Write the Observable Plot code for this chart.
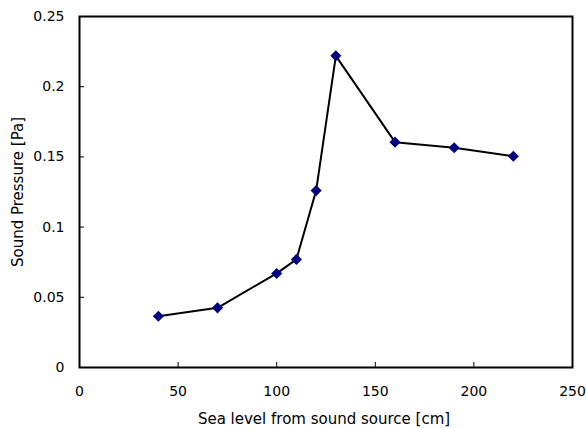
<!DOCTYPE html>
<html>
<head>
<meta charset="utf-8">
<script src="https://cdn.jsdelivr.net/npm/d3@7"></script>
<script src="https://cdn.jsdelivr.net/npm/@observablehq/plot@0.6"></script>
<style>
  html, body { margin: 0; padding: 0; background: #fff; }
  #chart svg { display: block; }
</style>
</head>
<body>
<div id="chart"></div>
<script>
const distance = [40, 70, 100, 110, 120, 130, 160, 190, 220];
const pressure = [0.0365, 0.0425, 0.067, 0.077, 0.126, 0.222, 0.1605, 0.1565, 0.1505];
const xTicks = [0, 50, 100, 150, 200, 250];
const yTicks = [0, 0.05, 0.1, 0.15, 0.2, 0.25];
const xLabel = "Sea level from sound source [cm]";
const yLabel = "Sound Pressure [Pa]";

const data = distance.map((d, i) => ({x: d, y: pressure[i]}));
const font = "'DejaVu Sans', sans-serif";

const chart = Plot.plot({
  width: 586,
  height: 428,
  marginLeft: 79,
  marginRight: 14,
  marginTop: 16,
  marginBottom: 61,
  style: {fontFamily: font, fontSize: "14px", color: "#000", background: "#fff"},
  x: {domain: [0, 250]},
  y: {domain: [0, 0.25]},
  marks: [
    Plot.axisX({ticks: xTicks, tickSize: -5, tickFormat: () => "", label: null}),
    Plot.axisY({ticks: yTicks, tickSize: -5, tickFormat: () => "", label: null}),
    Plot.axisX({ticks: xTicks, tickSize: 0, tickPadding: 19, tickFormat: d => String(d), label: null, fontSize: 14}),
    Plot.axisY({ticks: yTicks, tickSize: 0, tickPadding: 15, tickFormat: d => String(d), label: null, fontSize: 14}),
    Plot.text([xLabel], {text: d => d, frameAnchor: "bottom", dx: -2, dy: 52, textAnchor: "middle", lineAnchor: "middle", fontSize: 15, fill: "#000"}),
    Plot.text([yLabel], {text: d => d, frameAnchor: "left", dx: -61, rotate: -90, textAnchor: "middle", lineAnchor: "middle", fontSize: 15, fill: "#000"}),
    Plot.line(data, {x: "x", y: "y", stroke: "#000", strokeWidth: 2}),
    Plot.dot(data, {x: "x", y: "y", symbol: "diamond2", r: 5, fill: "#000080", stroke: "none"}),
    Plot.frame({stroke: "#000", strokeWidth: 2})
  ]
});
document.getElementById("chart").appendChild(chart);
</script>
</body>
</html>
